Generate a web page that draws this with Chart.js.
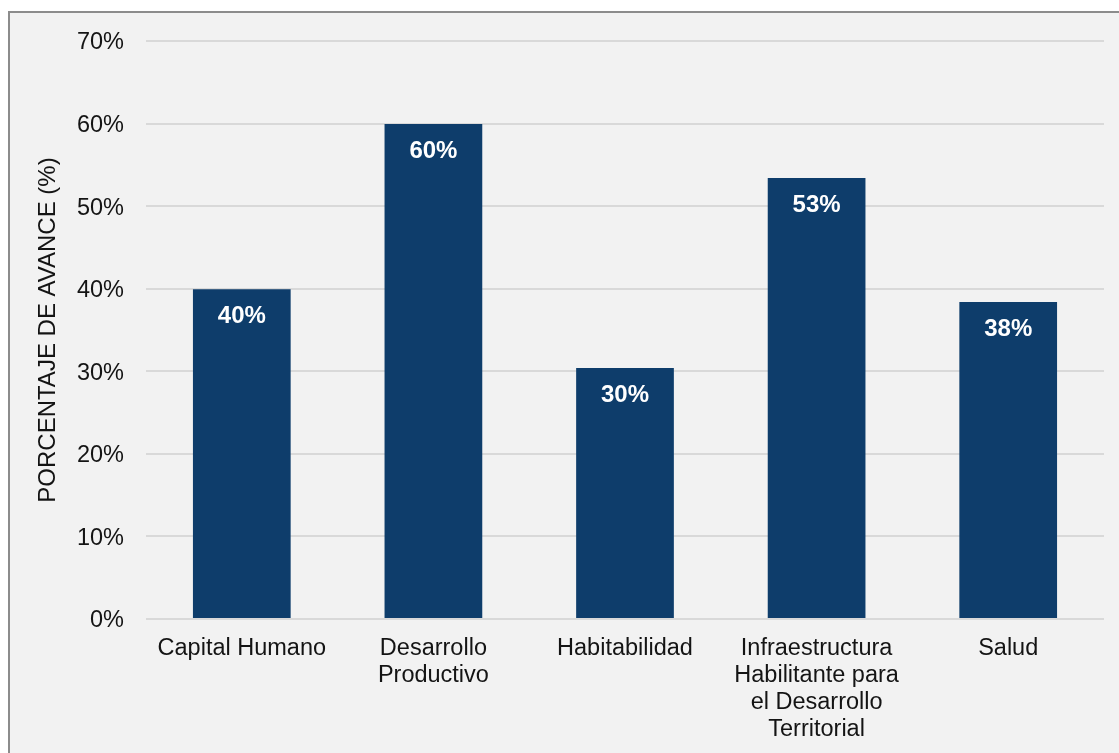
<!DOCTYPE html>
<html>
<head>
<meta charset="utf-8">
<script src="https://cdn.jsdelivr.net/npm/chart.js@4"></script>
<style>
  html, body { margin: 0; padding: 0; background: #ffffff; }
  body { width: 1119px; height: 753px; position: relative; overflow: hidden; }
  #frame {
    position: absolute; left: 8px; top: 11px; width: 1200px; height: 800px;
    background: #f2f2f2; border-left: 2px solid #8c8c8c; border-top: 2px solid #8c8c8c;
  }
  #wrap { position: absolute; left: 0; top: 0; width: 1119px; height: 753px; }
</style>
</head>
<body>
<div id="frame"></div>
<div id="wrap"><canvas id="avanceChart"></canvas></div>
<script>
// Avance por eje estratégico
const categories = [
    'Capital Humano',
    ['Desarrollo', 'Productivo'],
    'Habitabilidad',
    ['Infraestructura', 'Habilitante para', 'el Desarrollo', 'Territorial'],
    'Salud'
];
const avance = [39.95, 59.95, 30.4, 53.4, 38.4];
const yTicks = [0, 10, 20, 30, 40, 50, 60, 70];

const FONT = "'Liberation Sans', Arial, sans-serif";
const TEXT = '#141414';

// white percentage labels inside the top of each bar
const barLabels = {
    id: 'barLabels',
    afterDatasetsDraw(chart) {
        const ctx = chart.ctx;
        const meta = chart.getDatasetMeta(0);
        ctx.save();
        ctx.fillStyle = '#ffffff';
        ctx.font = 'bold 24px ' + FONT;
        ctx.textAlign = 'center';
        ctx.textBaseline = 'middle';
        meta.data.forEach((bar, i) => {
            ctx.fillText(Math.round(avance[i]) + '%', bar.x, bar.y + 27);
        });
        ctx.restore();
    }
};

new Chart(document.getElementById('avanceChart'), {
    type: 'bar',
    data: {
        labels: categories,
        datasets: [{
            data: avance,
            backgroundColor: '#0e3d6b',
            borderWidth: 0,
            categoryPercentage: 1,
            barPercentage: 0.51
        }]
    },
    options: {
        responsive: true,
        maintainAspectRatio: false,
        animation: false,
        layout: { padding: { top: 41, right: 15, left: 0, bottom: 0 } },
        plugins: {
            legend: { display: false },
            tooltip: { enabled: false }
        },
        scales: {
            x: {
                grid: { display: false },
                border: { display: false },
                ticks: {
                    color: TEXT,
                    font: { family: FONT, size: 23.5, lineHeight: 1.15 },
                    padding: 8,
                    maxRotation: 0,
                    autoSkip: false
                },
                afterFit(scale) { scale.height = 134; }
            },
            y: {
                min: 0,
                max: 70,
                afterBuildTicks(scale) {
                    scale.ticks = yTicks.map(v => ({ value: v }));
                },
                grid: { color: '#d9d9d9', lineWidth: 2, drawTicks: false },
                border: { display: false },
                ticks: {
                    color: TEXT,
                    font: { family: FONT, size: 23.5 },
                    padding: 22,
                    labelOffset: 2,
                    callback: v => v + '%'
                },
                title: {
                    display: true,
                    text: 'PORCENTAJE DE AVANCE (%)',
                    color: TEXT,
                    font: { family: FONT, size: 24, lineHeight: 1.2 },
                    padding: { top: 34, bottom: 0 }
                },
                afterFit(scale) { scale.width = 146; }
            }
        }
    },
    plugins: [barLabels]
});
</script>
</body>
</html>
